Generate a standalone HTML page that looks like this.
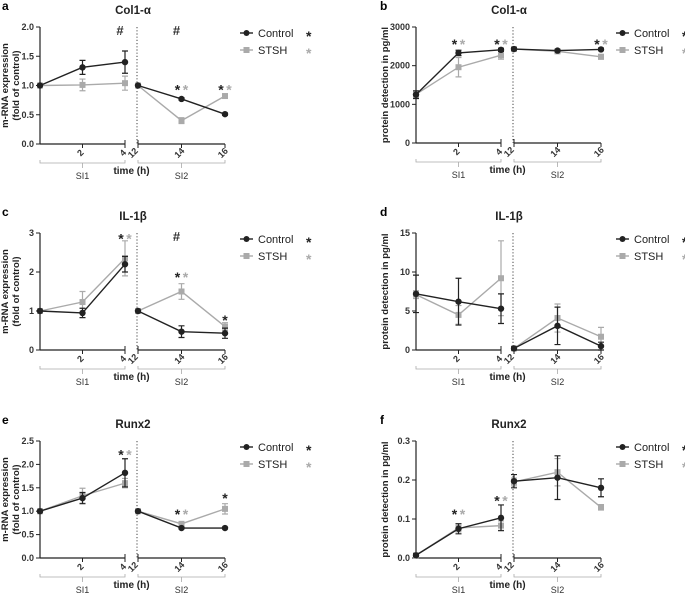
<!DOCTYPE html>
<html><head><meta charset="utf-8">
<style>
html,body{margin:0;padding:0;background:#fff;}
svg{display:block;font-family:"Liberation Sans",sans-serif;}
</style></head>
<body>
<svg id="fig" width="685" height="598" viewBox="0 0 685 598" xmlns="http://www.w3.org/2000/svg"></svg>
<script>
const times = [0, 2, 4, 12, 14, 16];
// panel a: Col1-a mRNA
const aCtrl = [1, 1.31, 1.40, 1, 0.77, 0.51];
const aCtrlErr = [0, 0.12, 0.19, 0, 0.02, 0.02];
const aStsh = [1, 1.01, 1.04, 1, 0.40, 0.82];
const aStshErr = [0, 0.10, 0.12, 0, 0.05, 0.03];
const aTicks = ["0.0","0.5","1.0","1.5","2.0"];
// panel b: Col1-a protein
const bCtrl = [1250, 2330, 2410, 2430, 2390, 2420];
const bCtrlErr = [100, 70, 40, 30, 30, 30];
const bStsh = [1260, 1960, 2270, 2430, 2370, 2230];
const bStshErr = [80, 250, 100, 30, 30, 60];
const bTicks = ["0","1000","2000","3000"];
// panel c: IL-1b mRNA
const cCtrl = [1, 0.95, 2.2, 1, 0.47, 0.43];
const cCtrlErr = [0, 0.12, 0.2, 0, 0.15, 0.13];
const cStsh = [1, 1.23, 2.35, 1, 1.5, 0.6];
const cStshErr = [0, 0.27, 0.45, 0, 0.2, 0.1];
const cTicks = ["0","1","2","3"];
// panel d: IL-1b protein
const dCtrl = [7.2, 6.2, 5.3, 0.2, 3.1, 0.5];
const dCtrlErr = [2.4, 3.0, 1.9, 0.2, 2.4, 0.5];
const dStsh = [7.1, 4.5, 9.2, 0.2, 4.1, 1.7];
const dStshErr = [0.5, 1.2, 4.8, 0.1, 1.8, 1.2];
const dTicks = ["0","5","10","15"];
// panel e: Runx2 mRNA
const eCtrl = [1, 1.28, 1.82, 1, 0.64, 0.64];
const eCtrlErr = [0, 0.12, 0.3, 0, 0.02, 0.02];
const eStsh = [1, 1.33, 1.6, 1, 0.73, 1.05];
const eStshErr = [0, 0.16, 0.1, 0, 0.03, 0.11];
const eTicks = ["0.0","0.5","1.0","1.5","2.0","2.5"];
// panel f: Runx2 protein
const fCtrl = [0.007, 0.075, 0.103, 0.197, 0.206, 0.18];
const fCtrlErr = [0.004, 0.013, 0.033, 0.017, 0.056, 0.023];
const fStsh = [0.007, 0.077, 0.083, 0.195, 0.22, 0.13];
const fStshErr = [0.003, 0.01, 0.012, 0.01, 0.035, 0.007];
const fTicks = ["0.0","0.1","0.2","0.3"];
// significance marks: [time, value, type]
const aMarks = [[4,1.93,"hash"],[14,1.93,"hash"],[14,0.98,"pair"],[16,0.98,"pair"]];
const bMarks = [[2,2640,"pair"],[4,2640,"pair"],[16,2640,"pair"]];
const cMarks = [[4,2.93,"pair"],[14,2.9,"hash"],[14,1.95,"pair"],[16,0.85,"black"]];
const dMarks = [];
const eMarks = [[4,2.28,"pair"],[14,1.0,"pair"],[16,1.35,"black"]];
const fMarks = [[2,0.12,"pair"],[4,0.155,"pair"]];

const panels = [
 {id:"a",title:"Col1-\u03b1",ox:40,top:27,bot:144,max:2,ctrl:aCtrl,ce:aCtrlErr,st:aStsh,se:aStshErr,ticks:aTicks,marks:aMarks,mrna:true},
 {id:"b",title:"Col1-\u03b1",ox:416,top:27,bot:143,max:3000,ctrl:bCtrl,ce:bCtrlErr,st:bStsh,se:bStshErr,ticks:bTicks,marks:bMarks,mrna:false},
 {id:"c",title:"IL-1\u03b2",ox:40,top:233,bot:350,max:3,ctrl:cCtrl,ce:cCtrlErr,st:cStsh,se:cStshErr,ticks:cTicks,marks:cMarks,mrna:true},
 {id:"d",title:"IL-1\u03b2",ox:416,top:233,bot:350,max:15,ctrl:dCtrl,ce:dCtrlErr,st:dStsh,se:dStshErr,ticks:dTicks,marks:dMarks,mrna:false},
 {id:"e",title:"Runx2",ox:40,top:441,bot:558,max:2.5,ctrl:eCtrl,ce:eCtrlErr,st:eStsh,se:eStshErr,ticks:eTicks,marks:eMarks,mrna:true},
 {id:"f",title:"Runx2",ox:416,top:441,bot:558,max:0.3,ctrl:fCtrl,ce:fCtrlErr,st:fStsh,se:fStshErr,ticks:fTicks,marks:fMarks,mrna:false}
];
const NS="http://www.w3.org/2000/svg";
const svg=document.getElementById("fig");
function mk(tag,attrs,parent,text){const e=document.createElementNS(NS,tag);for(const k in attrs)e.setAttribute(k,attrs[k]);if(text!==undefined)e.textContent=text;(parent||svg).appendChild(e);return e;}
const BLK="#222",GRY="#aaa";
panels.forEach(p=>{
  const g=mk("g",{});
  
  
  const X=t=> t<=4 ? p.ox + t/4*85 : p.ox+98 + (t-12)/4*87;
  const Y=v=> p.bot - v/p.max*(p.bot-p.top);
  const lt=mk("text",{x:p.mrna?p.ox-38:p.ox-36,y:p.top-17,"font-size":12,"font-weight":"bold",fill:"#000"},g,p.id);
  
  
  const tt=mk("text",{x:p.ox+93,y:p.top-13,"font-size":11.5,"font-weight":"bold","text-anchor":"middle",fill:"#222"},g,p.title);
  
  
  const ya=mk("line",{x1:p.ox,y1:p.top,x2:p.ox,y2:p.bot,stroke:BLK,"stroke-width":1.2},g);
  
  
  p.ticks.forEach((lab,i)=>{
    const v=p.max*i/(p.ticks.length-1);
    mk("line",{x1:p.ox-4,y1:Y(v),x2:p.ox,y2:Y(v),stroke:BLK,"stroke-width":1},g);
    const t=mk("text",{x:p.ox-6,y:Y(v)+3,"font-size":9,"font-weight":"bold","text-anchor":"end",fill:"#333"},g,lab);
    
    
  });
  const yl=mk("g",{transform:`translate(${p.ox-(p.mrna?25:28)},${(p.top+p.bot)/2}) rotate(-90)`},g);
  
  
  if(p.mrna){
    mk("text",{x:0,y:-7,"font-size":9.5,"font-weight":"bold","text-anchor":"middle",fill:"#222"},yl,"m-RNA expression");
    mk("text",{x:0,y:4,"font-size":9.5,"font-weight":"bold","text-anchor":"middle",fill:"#222"},yl,"(fold of control)");
  } else {
    mk("text",{x:0,y:0,"font-size":9.5,"font-weight":"bold","text-anchor":"middle",fill:"#222"},yl,"protein detection in pg/ml");
  }
  const xa1=mk("line",{x1:p.ox,y1:p.bot,x2:X(4),y2:p.bot,stroke:BLK,"stroke-width":1.2},g);
  
  
  const xa2=mk("line",{x1:X(12),y1:p.bot,x2:X(16),y2:p.bot,stroke:BLK,"stroke-width":1.2},g);
  
  
  mk("line",{x1:X(12),y1:p.bot-4,x2:X(12),y2:p.bot+4,stroke:BLK,"stroke-width":1},g);
  mk("line",{x1:X(4),y1:p.bot-4,x2:X(4),y2:p.bot+4,stroke:BLK,"stroke-width":1},g);
  [2,4,12,14,16].forEach(t=>{
    mk("line",{x1:X(t),y1:p.bot,x2:X(t),y2:p.bot+4,stroke:BLK,"stroke-width":1},g);
    const tx=X(t)+(t===12?-3:0), ty=p.bot+11;
    const tl=mk("text",{x:tx,y:ty,"font-size":9,"font-weight":"bold","text-anchor":"middle",fill:"#333",transform:`rotate(-45 ${tx} ${ty})`},g,String(t));
    
    
  });
  const dl=mk("line",{x1:X(12)-1,y1:p.top,x2:X(12)-1,y2:p.bot,stroke:"#444","stroke-width":1,"stroke-dasharray":"1.2,2"},g);
  
  
  const by=p.bot+19;
  [[0,4,2,"SI1"],[12,16,14,"SI2"]].forEach(b=>{
    const br=mk("path",{d:`M${X(b[0])},${by-3}V${by}H${X(b[1])}V${by-3}M${X(b[2])},${by}V${by+5}`,fill:"none",stroke:"#aaa","stroke-width":0.8},g);
    
    
    const bt=mk("text",{x:X(b[2]),y:by+16,"font-size":9,"text-anchor":"middle",fill:"#333"},g,b[3]);
    
    
  });
  const xt=mk("text",{x:(X(4)+X(12))/2,y:by+11,"font-size":10,"font-weight":"bold","text-anchor":"middle",fill:"#222"},g,"time (h)");
  
  
  [[p.st,p.se,GRY,"stsh"],[p.ctrl,p.ce,BLK,"control"]].forEach(s=>{
    const [m,e,col,nm]=s;
    [[0,1,2],[3,4,5]].forEach(seg=>{
      const pts=seg.map(i=>X(times[i])+","+Y(m[i])).join(" ");
      const pl=mk("polyline",{points:pts,fill:"none",stroke:col,"stroke-width":1.4},g);
      
      
    });
    m.forEach((v,i)=>{
      const x=X(times[i]);
      if(e[i]>0){
        const y1=Y(v+e[i]),y2=Y(Math.max(0,v-e[i]));
        const eb=mk("path",{d:`M${x},${y1}V${y2}M${x-3},${y1}H${x+3}M${x-3},${y2}H${x+3}`,stroke:col,"stroke-width":1.2,fill:"none"},g);
        
        
      }
      let mkr;
      if(nm==="control") mkr=mk("circle",{cx:x,cy:Y(v),r:3.2,fill:col},g);
      else mkr=mk("rect",{x:x-3,y:Y(v)-3,width:6,height:6,fill:col},g);
      
      
    });
  });
  p.marks.forEach(mm=>{
    const x=X(mm[0]),y=Y(mm[1]);
    if(mm[2]==="hash"){
      const h=mk("text",{x:x-5,y:y+4,"font-size":13,"font-weight":"bold","text-anchor":"middle",fill:"#333"},g,"#");
      
      
    } else {
      const s1=mk("text",{x:mm[2]==="pair"?x-4:x,y:y+8,"font-size":14,"font-weight":"bold","text-anchor":"middle",fill:"#222"},g,"*");
      
      
      if(mm[2]==="pair"){
        const s2=mk("text",{x:x+4,y:y+8,"font-size":14,"font-weight":"bold","text-anchor":"middle",fill:GRY},g,"*");
        
        
      }
    }
  });
  const lx=p.ox+200, ly=p.top+6;
  const lg=mk("g",{},g);
  
  
  [["Control",BLK,0],["STSH",GRY,17]].forEach(L=>{
    const y=ly+L[2];
    mk("line",{x1:lx,y1:y,x2:lx+13,y2:y,stroke:L[1],"stroke-width":1.4},lg);
    if(L[0]==="Control") mk("circle",{cx:lx+6.5,cy:y,r:3,fill:L[1]},lg);
    else mk("rect",{x:lx+3.5,y:y-3,width:6,height:6,fill:L[1]},lg);
    const t=mk("text",{x:lx+18,y:y+4,"font-size":11,fill:"#222"},lg,L[0]);
    
    
    mk("text",{x:lx+66,y:y+8,"font-size":14,"font-weight":"bold",fill:L[1]},lg,"*");
  });
});
</script>
</body></html>
